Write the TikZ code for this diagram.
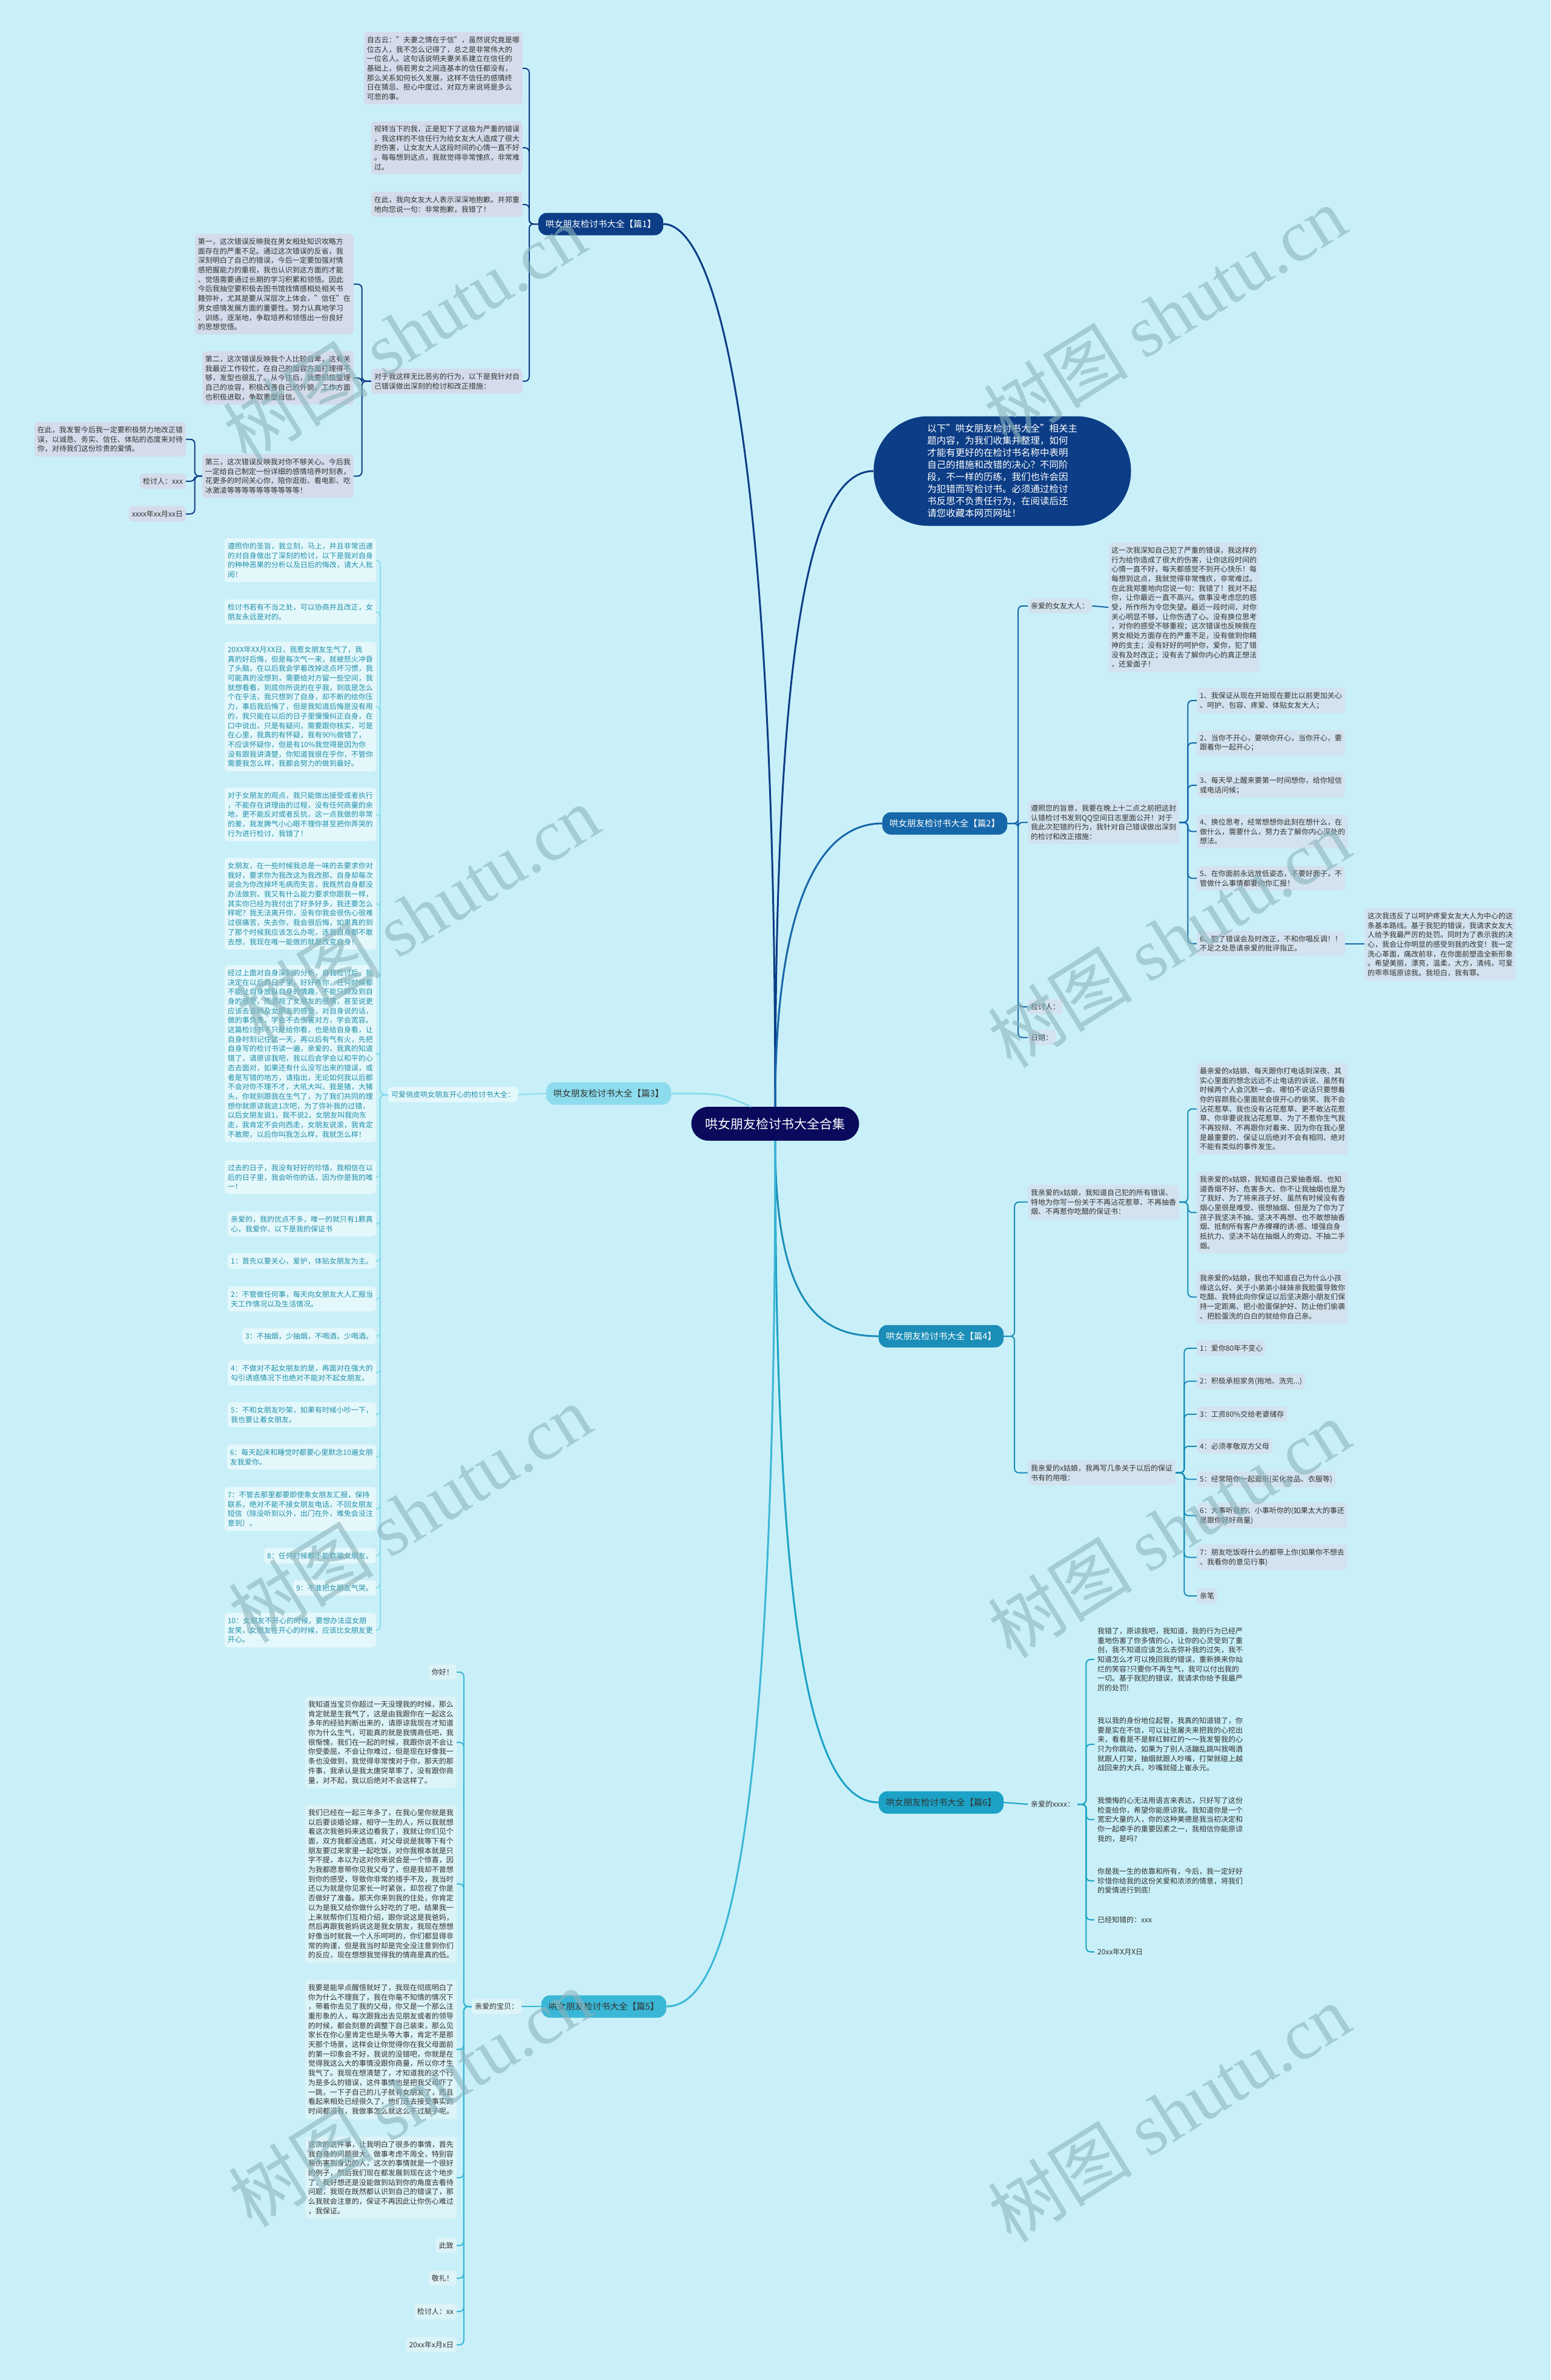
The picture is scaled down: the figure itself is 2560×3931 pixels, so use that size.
\documentclass[tikz,border=0pt]{standalone}
\usepackage{fontspec}
\setmainfont{Noto Sans CJK SC}
\newfontfamily\wmfont{Liberation Serif}
\usepackage{xcolor}
\usepackage{tikz}

\definecolor{bgc}{HTML}{C9F0F8}
\definecolor{cenfill}{HTML}{0A0A5C}
\definecolor{navyb}{HTML}{0C3D86}
\definecolor{blue2}{HTML}{1667AA}
\definecolor{cyan3}{HTML}{8CDCEE}
\definecolor{teal4}{HTML}{1A8DB8}
\definecolor{teal6}{HTML}{1BA2C6}
\definecolor{sky5}{HTML}{3AB6D6}
\definecolor{leafA}{HTML}{D4DCEB}
\definecolor{leafB}{HTML}{E4F8FC}
\definecolor{leafC}{HTML}{DCF3F8}
\definecolor{leafD}{HTML}{D2E3EF}
\definecolor{inkA}{HTML}{333333}
\definecolor{inkB}{HTML}{2290A8}
\definecolor{wmc}{HTML}{8AB4BC}

\begin{document}
\begin{tikzpicture}[x=1pt,y=-1pt,
  box/.style={font=\fontsize{12}{15.7}\selectfont,align=left,inner xsep=5pt,inner ysep=7pt,rounded corners=5pt},
  leafa/.style={box,fill=leafA,text=inkA},
  leafb/.style={box,fill=leafB,text=inkB},
  leafc/.style={box,fill=leafC,text=inkA},
  leafd/.style={box,fill=leafD,text=inkA},
  leafe/.style={box,text=inkA},
  topic/.style={font=\fontsize{14.5}{17}\selectfont,inner xsep=12pt,minimum height=37pt,rounded corners=14pt},
  trunk/.style={line width=3pt},
  twig/.style={line width=2pt,rounded corners=7pt},
  wmark/.style={text=wmc,opacity=0.6,rotate=32,font=\fontsize{120}{120}\selectfont}]
  \useasboundingbox[fill=bgc] (0,0) rectangle (2560,3931);

  % root and intro
  \node[fill=cenfill,text=white,font=\fontsize{21}{24}\selectfont,minimum width=277pt,minimum height=56pt,rounded corners=28pt] (cen) at (1280,1856) {哄女朋友检讨书大全合集};
  \node[fill=navyb,text=white,font=\fontsize{15.5}{20}\selectfont,align=left,minimum width=425pt,minimum height=181pt,rounded corners=90pt] (intro) at (1655,778) {以下"哄女朋友检讨书大全"相关主\\题内容，为我们收集并整理，如何\\才能有更好的在检讨书名称中表明\\自己的措施和改错的决心？不同阶\\段，不一样的历练，我们也许会因\\为犯错而写检讨书。必须通过检讨\\书反思不负责任行为，在阅读后还\\请您收藏本网页网址！};

  % topics
  \node[topic,fill=navyb,text=white] (t1) at (992,370) {哄女朋友检讨书大全【篇1】};
  \node[topic,fill=blue2,text=white] (t2) at (1560,1360) {哄女朋友检讨书大全【篇2】};
  \node[topic,fill=cyan3,text=inkA] (t3) at (1005,1806) {哄女朋友检讨书大全【篇3】};
  \node[topic,fill=teal4,text=white] (t4) at (1554,2207) {哄女朋友检讨书大全【篇4】};
  \node[topic,fill=sky5,text=inkA] (t5) at (997,3314) {哄女朋友检讨书大全【篇5】};
  \node[topic,fill=teal6,text=inkA] (t6) at (1554,2977) {哄女朋友检讨书大全【篇6】};

  % part 1
  \node[leafa,anchor=north east] (k1a) at (863,53) {自古云："夫妻之情在于信"，虽然说究竟是哪\\位古人，我不怎么记得了，总之是非常伟大的\\一位名人。这句话说明夫妻关系建立在信任的\\基础上，倘若男女之间连基本的信任都没有，\\那么关系如何长久发展，这样不信任的感情终\\日在猜忌、担心中度过，对双方来说将是多么\\可悲的事。};
  \node[leafa,anchor=north east] (k1b) at (863,200) {视转当下的我，正是犯下了这极为严重的错误\\，我这样的不信任行为给女友大人造成了很大\\的伤害，让女友大人这段时间的心情一直不好\\。每每想到这点，我就觉得非常愧疚，非常难\\过。};
  \node[leafa,anchor=north east] (k1c) at (863,317) {在此，我向女友大人表示深深地抱歉。并郑重\\地向您说一句：非常抱歉，我错了！};
  \node[leafa,anchor=north east] (k1d) at (863,609) {对于我这样无比恶劣的行为，以下是我针对自\\己错误做出深刻的检讨和改正措施：};
  \node[leafa,anchor=north east] (k1e) at (584,386) {第一，这次错误反映我在男女相处知识攻略方\\面存在的严重不足。通过这次错误的反省，我\\深刻明白了自己的错误，今后一定要加强对情\\感把握能力的重视，我也认识到这方面的才能\\、觉悟需要通过长期的学习积累和领悟。因此\\今后我抽空要积极去图书馆找情感相处相关书\\籍弥补，尤其是要从深层次上体会，"信任"在\\男女感情发展方面的重要性。努力认真地学习\\、训练，逐渐地，争取培养和领悟出一份良好\\的思想觉悟。};
  \node[leafa,anchor=north east] (k1f) at (584,580) {第二，这次错误反映我个人比较自卑，这有关\\我最近工作较忙，在自己的面容方面打理得不\\够，发型也很乱了。从今往后，我要积极整理\\自己的妆容，积极改善自己的外貌，工作方面\\也积极进取，争取重塑自信。};
  \node[leafa,anchor=north east] (k1g) at (584,750) {第三，这次错误反映我对你不够关心。今后我\\一定给自己制定一份详细的感情培养时刻表，\\花更多的时间关心你，陪你逛街、看电影、吃\\冰激凌等等等等等等等等等等！};
  \node[leafa,anchor=north east] (k1h) at (307,697) {在此，我发誓今后我一定要积极努力地改正错\\误，以诚恳、务实、信任、体贴的态度来对待\\你，对待我们这份珍贵的爱情。};
  \node[leafa,anchor=north east] (k1i) at (307,782) {检讨人：xxx};
  \node[leafa,anchor=north east] (k1j) at (307,836) {xxxx年xx月xx日};

  % part 2
  \node[leafd,anchor=north west] (s2a) at (1697,988) {亲爱的女友大人：};
  \node[leafd,anchor=north west] (s2b) at (1830,896) {这一次我深知自己犯了严重的错误，我这样的\\行为给你造成了很大的伤害，让你这段时间的\\心情一直不好，每天都感觉不到开心快乐！每\\每想到这点，我就觉得非常愧疚，非常难过。\\在此我郑重地向您说一句：我错了！我对不起\\你，让你最近一直不高兴。做事没考虑您的感\\受，所作所为令您失望。最近一段时间，对你\\关心明显不够，让你伤透了心。没有换位思考\\，对你的感受不够重视；这次错误也反映我在\\男女相处方面存在的严重不足，没有做到你精\\神的支主；没有好好的呵护你，爱你，犯了错\\没有及时改正；没有去了解你内心的真正想法\\，还爱面子！};
  \node[leafd,anchor=north west] (s2c) at (1697,1322) {遵照您的旨意，我要在晚上十二点之前把这封\\认错检讨书发到QQ空间日志里面公开！对于\\我此次犯错的行为，我针对自己错误做出深刻\\的检讨和改正措施：};
  \node[leafd,anchor=north west] (s2d) at (1976,1136) {1、我保证从现在开始现在要比以前更加关心\\、呵护、包容、疼爱、体贴女友大人；};
  \node[leafd,anchor=north west] (s2e) at (1976,1206) {2、当你不开心，要哄你开心，当你开心，要\\跟着你一起开心；};
  \node[leafd,anchor=north west] (s2f) at (1976,1276) {3、每天早上醒来要第一时间想你，给你短信\\或电话问候；};
  \node[leafd,anchor=north west] (s2g) at (1976,1345) {4、换位思考，经常想想你此刻在想什么，在\\做什么，需要什么，努力去了解你内心深处的\\想法。};
  \node[leafd,anchor=north west] (s2h) at (1976,1430) {5、在你面前永远放低姿态，不要好面子，不\\管做什么事情都要向你汇报！};
  \node[leafd,anchor=north west] (s2i) at (1976,1538) {6、犯了错误会及时改正，不和你唱反调！！\\不足之处恳请亲爱的批评指正。};
  \node[leafd,anchor=north west] (s2j) at (2253,1500) {这次我违反了以呵护疼爱女友大人为中心的这\\条基本路线。基于我犯的错误，我请求女友大\\人给予我最严厉的处罚。同时为了表示我的决\\心，我会让你明显的感受到我的改变！我一定\\洗心革面，痛改前非，在你面前塑造全新形象\\。希望美丽，漂亮，温柔，大方，清纯，可爱\\的乖乖瑶原谅我。我坦白，我有罪。};
  \node[leafd,anchor=north west] (s2k) at (1697,1650) {检讨人：};
  \node[leafd,anchor=north west] (s2l) at (1697,1701) {日期：};

  % part 3
  \node[leafb] (s3) at (748,1808) {可爱俏皮哄女朋友开心的检讨书大全：};
  \node[leafb,anchor=north east] (s3a) at (621,889) {遵照你的圣旨，我立刻，马上，并且非常迅速\\的对自身做出了深刻的检讨，以下是我对自身\\的种种恶果的分析以及日后的悔改，请大人批\\阅！};
  \node[leafb,anchor=north east] (s3b) at (621,990) {检讨书若有不当之处，可以协商并且改正，女\\朋友永远是对的。};
  \node[leafb,anchor=north east] (s3c) at (621,1060) {20XX年XX月XX日，我惹女朋友生气了，我\\真的好后悔，但是每次气一来，就被怒火冲昏\\了头脑，在以后我会学着改掉这点坏习惯，我\\可能真的没想到，需要给对方留一些空间，我\\就想看看，到底你所说的在乎我，到底是怎么\\个在乎法，我只想到了自身，却不断的给你压\\力，事后我后悔了，但是我知道后悔是没有用\\的，我只能在以后的日子里慢慢纠正自身，在\\口中说出，只是有疑问，需要跟你核实，可是\\在心里，我真的有怀疑，我有90\%做错了，\\不应该怀疑你，但是有10\%我觉得是因为你\\没有跟我讲清楚，你知道我很在乎你，不管你\\需要我怎么样，我都会努力的做到最好。};
  \node[leafb,anchor=north east] (s3d) at (621,1301) {对于女朋友的观点，我只能做出接受或者执行\\，不能存在讲理由的过程，没有任何商量的余\\地，更不能反对或者反抗，这一点我做的非常\\的差，我发脾气小心眼不理你甚至把你弄哭的\\行为进行检讨，我错了！};
  \node[leafb,anchor=north east] (s3e) at (621,1417) {女朋友，在一些时候我总是一味的去要求你对\\我好，要求你为我改这为我改那，自身却每次\\说会为你改掉坏毛病而失言，我既然自身都没\\办法做到，我又有什么能力要求你跟我一样，\\其实你已经为我付出了好多好多，我还要怎么\\样呢？我无法离开你，没有你我会很伤心很难\\过很痛苦，失去你，我会很后悔，如果真的到\\了那个时候我应该怎么办呢，连我自身都不敢\\去想，我现在唯一能做的就是改变自身！};
  \node[leafb,anchor=north east] (s3f) at (621,1594) {经过上面对自身深刻的分析，自我检讨后，我\\决定在以后的日子里，好好疼你，任何时候都\\不能让自身放纵自身的情趣，不能只顾及到自\\身的感受，而忽视了女朋友的感情，甚至说更\\应该去去顾及女朋友的感受，对自身说的话，\\做的事负责，学会不去伤害对方，学会宽容。\\这篇检讨书不只是给你看，也是给自身看，让\\自身时刻记住这一天，再以后有气有火，先把\\自身写的检讨书读一遍，亲爱的，我真的知道\\错了，请原谅我吧，我以后会学会以和平的心\\态去面对，如果还有什么没写出来的错误，或\\者是写错的地方，请指出，无论如何我以后都\\不会对你不理不才，大吼大叫，我是猪，大猪\\头，你就别跟我在生气了，为了我们共同的理\\想你就原谅我这1次吧，为了弥补我的过错，\\以后女朋友说1，我不说2，女朋友叫我向东\\走，我肯定不会向西走，女朋友说滚，我肯定\\不敢爬，以后你叫我怎么样，我就怎么样！};
  \node[leafb,anchor=north east] (s3g) at (621,1916) {过去的日子，我没有好好的珍惜，我相信在以\\后的日子里，我会听你的话，因为你是我的唯\\一！};
  \node[leafb,anchor=north east] (s3h) at (621,2001) {亲爱的，我的优点不多，唯一的就只有1颗真\\心，我爱你，以下是我的保证书};
  \node[leafb,anchor=north east] (s3i) at (621,2070) {1：首先以要关心，爱护，体贴女朋友为主。};
  \node[leafb,anchor=north east] (s3j) at (621,2125) {2：不管做任何事，每天向女朋友大人汇报当\\天工作情况以及生活情况。};
  \node[leafb,anchor=north east] (s3k) at (621,2194) {3：不抽烟，少抽烟，不喝酒，少喝酒。};
  \node[leafb,anchor=north east] (s3l) at (621,2247) {4：不做对不起女朋友的是，再面对在强大的\\勾引诱惑情况下也绝对不能对不起女朋友。};
  \node[leafb,anchor=north east] (s3m) at (621,2316) {5：不和女朋友吵架，如果有时候小吵一下，\\我也要让着女朋友。};
  \node[leafb,anchor=north east] (s3n) at (621,2386) {6：每天起床和睡觉时都要心里默念10遍女朋\\友我爱你。};
  \node[leafb,anchor=north east] (s3o) at (621,2456) {7：不管去那里都要即使象女朋友汇报，保持\\联系，绝对不能不接女朋友电话，不回女朋友\\短信（除没听到以外，出门在外，难免会没注\\意到）。};
  \node[leafb,anchor=north east] (s3p) at (621,2557) {8：任何时候都不能欺骗女朋友。};
  \node[leafb,anchor=north east] (s3q) at (621,2610) {9：不准把女朋友气哭。};
  \node[leafb,anchor=north east] (s3r) at (621,2664) {10：女朋友不开心的时候，要想办法逗女朋\\友笑，女朋友在开心的时候，应该比女朋友更\\开心。};

  % part 4
  \node[leafd,anchor=north west] (s4a) at (1697,1957) {我亲爱的x姑娘，我知道自己犯的所有错误、\\特地为你写一份关于不再沾花惹草、不再抽香\\烟、不再惹你吃醋的保证书：};
  \node[leafd,anchor=north west] (s4b) at (1976,1756) {最亲爱的x姑娘、每天跟你打电话到深夜、其\\实心里面的想念远远不止电话的诉说、虽然有\\时候两个人会沉默一会、哪怕不说话只要想着\\你的容颜我心里面就会很开心的偷笑、我不会\\沾花惹草、我也没有沾花惹草、更不敢沾花惹\\草、你非要说我沾花惹草、为了不惹你生气我\\不再狡辩、不再跟你对着来、因为你在我心里\\是最重要的、保证以后绝对不会有相同、绝对\\不能有类似的事件发生。};
  \node[leafd,anchor=north west] (s4c) at (1976,1935) {我亲爱的x姑娘，我知道自己爱抽香烟、也知\\道香烟不好、危害多大、你不让我抽烟也是为\\了我好、为了将来孩子好、虽然有时候没有香\\烟心里很是难受、很想抽烟、但是为了你为了\\孩子我坚决不抽、坚决不再想、也不敢想抽香\\烟、抵制所有客户赤裸裸的诱-惑、增强自身\\抵抗力、坚决不站在抽烟人的旁边、不抽二手\\烟。};
  \node[leafd,anchor=north west] (s4d) at (1976,2098) {我亲爱的x姑娘，我也不知道自己为什么小孩\\缘这么好、关于小弟弟小妹妹亲我脸蛋导致你\\吃醋、我特此向你保证以后坚决跟小朋友们保\\持一定距离、把小脸蛋保护好、防止他们偷袭\\、把脸蛋洗的白白的就给你自己亲。};
  \node[leafd,anchor=north west] (s4e) at (1697,2412) {我亲爱的x姑娘，我再写几条关于以后的保证\\书有的用哦：};
  \node[leafd,anchor=north west] (s4f) at (1976,2214) {1：爱你80年不变心};
  \node[leafd,anchor=north west] (s4g) at (1976,2268) {2：积极承担家务(拖地、洗完...)};
  \node[leafd,anchor=north west] (s4h) at (1976,2323) {3：工资80\%交给老婆储存};
  \node[leafd,anchor=north west] (s4i) at (1976,2376) {4：必须孝敬双方父母};
  \node[leafd,anchor=north west] (s4j) at (1976,2430) {5：经常陪你一起逛街(买化妆品、衣服等)};
  \node[leafd,anchor=north west] (s4k) at (1976,2482) {6：大事听我的、小事听你的(如果太大的事还\\是跟你好好商量)};
  \node[leafd,anchor=north west] (s4l) at (1976,2551) {7：朋友吃饭呀什么的都带上你(如果你不想去\\、我看你的意见行事)};
  \node[leafd,anchor=north west] (s4m) at (1976,2623) {亲笔};

  % part 6
  \node[leafe,anchor=west] (s6a) at (1697,2980) {亲爱的xxxx：};
  \node[leafe,anchor=north west] (s6b) at (1807,2681) {我错了，原谅我吧，我知道，我的行为已经严\\重地伤害了你多情的心，让你的心灵受到了重\\创，我不知道应该怎么去弥补我的过失，我不\\知道怎么才可以挽回我的错误，重新换来你灿\\烂的笑容?只要你不再生气，我可以付出我的\\一切。基于我犯的错误，我请求你给予我最严\\厉的处罚!};
  \node[leafe,anchor=north west] (s6c) at (1807,2829) {我以我的身份地位起誓，我真的知道错了，你\\要是实在不信，可以让张屠夫来把我的心挖出\\来，看看是不是鲜红鲜红的～～我发誓我的心\\只为你跳动，如果为了别人活蹦乱跳叫我喝酒\\就跟人打架，抽烟就跟人吵嘴，打架就碰上越\\战回来的大兵，吵嘴就碰上崔永元。};
  \node[leafe,anchor=north west] (s6d) at (1807,2961) {我懊悔的心无法用语言来表达，只好写了这份\\检查给你，希望你能原谅我。我知道你是一个\\宽宏大量的人，你的这种美德是我当初决定和\\你一起牵手的重要因素之一，我相信你能原谅\\我的，是吗?};
  \node[leafe,anchor=north west] (s6e) at (1807,3078) {你是我一生的依靠和所有，今后，我一定好好\\珍惜你给我的这份关爱和浓浓的情意，将我们\\的爱情进行到底!};
  \node[leafe,anchor=north west] (s6f) at (1807,3158) {已经知错的：xxx};
  \node[leafe,anchor=north west] (s6g) at (1807,3211) {20xx年X月X日};

  % part 5
  \node[leafc] (s5) at (820,3314) {亲爱的宝贝：};
  \node[leafc,anchor=north east] (s5a) at (754,2749) {你好！};
  \node[leafc,anchor=north east] (s5b) at (754,2802) {我知道当宝贝你超过一天没理我的时候，那么\\肯定就是生我气了，这是由我跟你在一起这么\\多年的经验判断出来的，请原谅我现在才知道\\你为什么生气，可能真的就是我情商低吧，我\\很惭愧，我们在一起的时候，我跟你说不会让\\你受委屈，不会让你难过，但是现在好像我一\\条也没做到，我觉得非常愧对于你，那天的那\\件事，我承认是我太唐突草率了，没有跟你商\\量，对不起，我以后绝对不会这样了。};
  \node[leafc,anchor=north east] (s5c) at (754,2981) {我们已经在一起三年多了，在我心里你就是我\\以后要谈婚论嫁，相守一生的人，所以我就想\\着这次我爸妈来这边看我了，我就让你们见个\\面，双方我都没透底，对父母说是我等下有个\\朋友要过来家里一起吃饭，对你我根本就是只\\字不提，本以为这对你来说会是一个惊喜，因\\为我都愿意带你见我父母了，但是我却不曾想\\到你的感受，导致你非常的措手不及，我当时\\还以为就是你见家长一时紧张，却忽视了你是\\否做好了准备。那天你来到我的住处，你肯定\\以为是我又给你做什么好吃的了吧，结果我一\\上来就帮你们互相介绍，跟你说这是我爸妈，\\然后再跟我爸妈说这是我女朋友，我现在想想\\好像当时就我一个人乐呵呵的，你们都显得非\\常的拘谨，但是我当时却是完全没注意到你们\\的反应，现在想想我觉得我的情商是真的低。};
  \node[leafc,anchor=north east] (s5d) at (754,3270) {我要是能早点醒悟就好了，我现在彻底明白了\\你为什么不理我了，我在你毫不知情的情况下\\，带着你去见了我的父母，你又是一个那么注\\重形象的人，每次跟我出去见朋友或者的领导\\的时候，都会刻意的调整下自己装束，那么见\\家长在你心里肯定也是头等大事，肯定不是那\\天那个场景，这样会让你觉得你在我父母面前\\的第一印象会不好，我说的没错吧，你就是在\\觉得我这么大的事情没跟你商量，所以你才生\\我气了。我现在想清楚了，才知道我的这个行\\为是多么的错误，这件事情也是把我父母吓了\\一跳，一下子自己的儿子就有女朋友了，而且\\看起来相处已经很久了，他们连去接受事实的\\时间都没有，我做事怎么就这么不过脑子呢。};
  \node[leafc,anchor=north east] (s5e) at (754,3529) {这次的这件事，让我明白了很多的事情，首先\\我自身的问题很大，做事考虑不周全，特别容\\易伤害到身边的人，这次的事情就是一个很好\\的例子，然后我们现在都发展到现在这个地步\\了，我好想还是没能做到站到你的角度去看待\\问题，我现在既然都认识到自己的错误了，那\\么我就会注意的，保证不再因此让你伤心难过\\，我保证。};
  \node[leafc,anchor=north east] (s5f) at (754,3696) {此致};
  \node[leafc,anchor=north east] (s5g) at (754,3750) {敬礼！};
  \node[leafc,anchor=north east] (s5h) at (754,3805) {检讨人：xx};
  \node[leafc,anchor=north east] (s5i) at (754,3860) {20xx年x月x日};

  % main branches
  \draw[trunk,navyb] (cen.north) .. controls (1280,700) and (1180,370) .. (t1.east);
  \draw[trunk,navyb] (cen.north) .. controls (1280,1100) and (1330,778) .. (intro.west);
  \draw[trunk,blue2] (cen.north) .. controls (1280,1500) and (1350,1360) .. (t2.west);
  \draw[trunk,cyan3] (t3.east) .. controls (1190,1806) .. ([xshift=-40pt]cen.north);
  \draw[trunk,teal4] (cen.south) .. controls (1280,2150) and (1350,2207) .. (t4.west);
  \draw[trunk,teal6] (cen.south) .. controls (1280,2700) and (1340,2977) .. (t6.west);
  \draw[trunk,sky5] (cen.south) .. controls (1280,3050) and (1200,3314) .. (t5.east);

  % part 1 links
  \draw[twig,navyb] (t1.west) -- ++(-15,0) |- (k1a.east);
  \draw[twig,navyb] (t1.west) -- ++(-15,0) |- (k1b.east);
  \draw[twig,navyb] (t1.west) -- ++(-15,0) |- (k1c.east);
  \draw[twig,navyb] (t1.west) -- ++(-15,0) |- (k1d.east);
  \draw[twig,navyb] (k1d.west) -- ++(-15,0) |- (k1e.east);
  \draw[twig,navyb] (k1d.west) -- ++(-15,0) |- (k1f.east);
  \draw[twig,navyb] (k1d.west) -- ++(-15,0) |- (k1g.east);
  \draw[twig,navyb] (k1g.west) -- ++(-12,0) |- (k1h.east);
  \draw[twig,navyb] (k1g.west) -- ++(-12,0) |- (k1i.east);
  \draw[twig,navyb] (k1g.west) -- ++(-12,0) |- (k1j.east);

  % part 2 links
  \draw[twig,blue2] (t2.east) -- ++(18,0) |- (s2a.west);
  \draw[twig,blue2] (t2.east) -- ++(18,0) |- (s2c.west);
  \draw[twig,blue2] (t2.east) -- ++(18,0) |- (s2k.west);
  \draw[twig,blue2] (t2.east) -- ++(18,0) |- (s2l.west);
  \draw[twig,blue2] (s2a.east) -- (s2b.west);
  \draw[twig,blue2] (s2c.east) -- ++(14,0) |- (s2d.west);
  \draw[twig,blue2] (s2c.east) -- ++(14,0) |- (s2e.west);
  \draw[twig,blue2] (s2c.east) -- ++(14,0) |- (s2f.west);
  \draw[twig,blue2] (s2c.east) -- ++(14,0) |- (s2g.west);
  \draw[twig,blue2] (s2c.east) -- ++(14,0) |- (s2h.west);
  \draw[twig,blue2] (s2c.east) -- ++(14,0) |- (s2i.west);
  \draw[twig,blue2] (s2i.east) -- (s2i.east -| s2j.west);

  % part 3 links
  \draw[twig,cyan3] (t3.west) -- (s3.east);
  \draw[twig,cyan3] (s3.west) -- ++(-13,0) |- (s3a.east);
  \draw[twig,cyan3] (s3.west) -- ++(-13,0) |- (s3b.east);
  \draw[twig,cyan3] (s3.west) -- ++(-13,0) |- (s3c.east);
  \draw[twig,cyan3] (s3.west) -- ++(-13,0) |- (s3d.east);
  \draw[twig,cyan3] (s3.west) -- ++(-13,0) |- (s3e.east);
  \draw[twig,cyan3] (s3.west) -- ++(-13,0) |- (s3f.east);
  \draw[twig,cyan3] (s3.west) -- ++(-13,0) |- (s3g.east);
  \draw[twig,cyan3] (s3.west) -- ++(-13,0) |- (s3h.east);
  \draw[twig,cyan3] (s3.west) -- ++(-13,0) |- (s3i.east);
  \draw[twig,cyan3] (s3.west) -- ++(-13,0) |- (s3j.east);
  \draw[twig,cyan3] (s3.west) -- ++(-13,0) |- (s3k.east);
  \draw[twig,cyan3] (s3.west) -- ++(-13,0) |- (s3l.east);
  \draw[twig,cyan3] (s3.west) -- ++(-13,0) |- (s3m.east);
  \draw[twig,cyan3] (s3.west) -- ++(-13,0) |- (s3n.east);
  \draw[twig,cyan3] (s3.west) -- ++(-13,0) |- (s3o.east);
  \draw[twig,cyan3] (s3.west) -- ++(-13,0) |- (s3p.east);
  \draw[twig,cyan3] (s3.west) -- ++(-13,0) |- (s3q.east);
  \draw[twig,cyan3] (s3.west) -- ++(-13,0) |- (s3r.east);

  % part 4 links
  \draw[twig,teal4] (t4.east) -- ++(18,0) |- (s4a.west);
  \draw[twig,teal4] (t4.east) -- ++(18,0) |- (s4e.west);
  \draw[twig,teal4] (s4a.east) -- ++(14,0) |- (s4b.west);
  \draw[twig,teal4] (s4a.east) -- ++(14,0) |- (s4c.west);
  \draw[twig,teal4] (s4a.east) -- ++(14,0) |- (s4d.west);
  \draw[twig,teal4] (s4e.east) -- ++(14,0) |- (s4f.west);
  \draw[twig,teal4] (s4e.east) -- ++(14,0) |- (s4g.west);
  \draw[twig,teal4] (s4e.east) -- ++(14,0) |- (s4h.west);
  \draw[twig,teal4] (s4e.east) -- ++(14,0) |- (s4i.west);
  \draw[twig,teal4] (s4e.east) -- ++(14,0) |- (s4j.west);
  \draw[twig,teal4] (s4e.east) -- ++(14,0) |- (s4k.west);
  \draw[twig,teal4] (s4e.east) -- ++(14,0) |- (s4l.west);
  \draw[twig,teal4] (s4e.east) -- ++(14,0) |- (s4m.west);

  % part 6 links
  \draw[twig,teal6] (t6.east) -- (s6a.west);
  \draw[twig,teal6] (s6a.east) -- ++(14,0) |- (s6b.west);
  \draw[twig,teal6] (s6a.east) -- ++(14,0) |- (s6c.west);
  \draw[twig,teal6] (s6a.east) -- ++(14,0) |- (s6d.west);
  \draw[twig,teal6] (s6a.east) -- ++(14,0) |- (s6e.west);
  \draw[twig,teal6] (s6a.east) -- ++(14,0) |- (s6f.west);
  \draw[twig,teal6] (s6a.east) -- ++(14,0) |- (s6g.west);

  % part 5 links
  \draw[twig,sky5] (t5.west) -- (s5.east);
  \draw[twig,sky5] (s5.west) -- ++(-13,0) |- (s5a.east);
  \draw[twig,sky5] (s5.west) -- ++(-13,0) |- (s5b.east);
  \draw[twig,sky5] (s5.west) -- ++(-13,0) |- (s5c.east);
  \draw[twig,sky5] (s5.west) -- ++(-13,0) |- (s5d.east);
  \draw[twig,sky5] (s5.west) -- ++(-13,0) |- (s5e.east);
  \draw[twig,sky5] (s5.west) -- ++(-13,0) |- (s5f.east);
  \draw[twig,sky5] (s5.west) -- ++(-13,0) |- (s5g.east);
  \draw[twig,sky5] (s5.west) -- ++(-13,0) |- (s5h.east);
  \draw[twig,sky5] (s5.west) -- ++(-13,0) |- (s5i.east);

  % watermarks
  \node[wmark] (w1) at (668,550) {树图 {\wmfont shutu.cn}};
  \node[wmark] (w2) at (1923,520) {树图 {\wmfont shutu.cn}};
  \node[wmark] (w3) at (690,1510) {树图 {\wmfont shutu.cn}};
  \node[wmark] (w4) at (1930,1550) {树图 {\wmfont shutu.cn}};
  \node[wmark] (w5) at (677,2500) {树图 {\wmfont shutu.cn}};
  \node[wmark] (w6) at (1930,2525) {树图 {\wmfont shutu.cn}};
  \node[wmark] (w7) at (677,3465) {树图 {\wmfont shutu.cn}};
  \node[wmark] (w8) at (1930,3490) {树图 {\wmfont shutu.cn}};
\end{tikzpicture}
\end{document}
